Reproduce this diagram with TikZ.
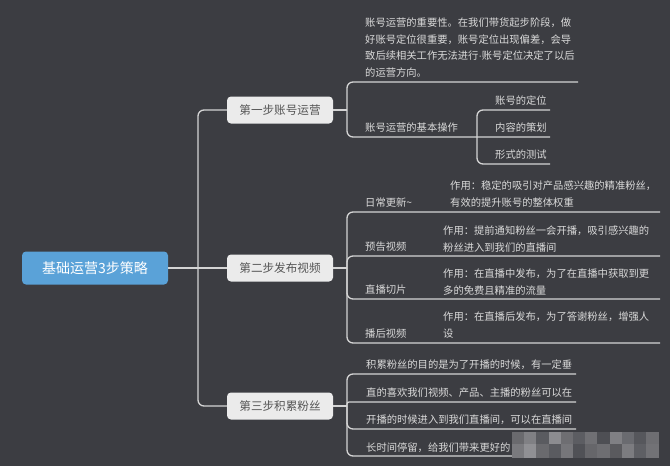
\documentclass[tikz,border=0pt]{standalone}
\usepackage{fontspec}
\newfontfamily\cjk{Noto Sans CJK SC}
\newfontfamily\latinf{Liberation Sans}
\definecolor{bg}{HTML}{3C3D42}
\definecolor{rootblue}{HTML}{5AA2D8}
\definecolor{topicfill}{HTML}{EBEBEB}
\definecolor{topictext}{HTML}{555555}
\definecolor{leaftext}{HTML}{DADADA}
\definecolor{linec}{HTML}{D4D4D4}
\begin{document}
\begin{tikzpicture}[x=1pt,y=-1pt,
  rootbox/.style={fill=rootblue, text=white, rounded corners=4pt, minimum width=146pt, minimum height=33pt, inner sep=0pt, font=\cjk\fontsize{14}{16}\selectfont},
  topicbox/.style={fill=topicfill, text=topictext, rounded corners=4pt, minimum width=106pt, minimum height=27pt, inner sep=0pt, font=\cjk\fontsize{11.6}{14}\selectfont},
  leaf/.style={anchor=base west, inner sep=0pt, text=leaftext, align=left, font=\cjk\fontsize{10.3}{16.4}\selectfont},
  leafdesc/.style={leaf, font=\cjk\fontsize{10.3}{17}\selectfont},
  conn/.style={draw=linec, line width=1.3pt, rounded corners=6pt},
  connsmall/.style={draw=linec, line width=1.3pt, rounded corners=2pt}]
\fill[bg] (0,0) rectangle (670,466);
\useasboundingbox (0,0) rectangle (670,466);

% main nodes
\node[rootbox] (root) at (95,268) {基础运营3步策略};
\node[topicbox] (l1) at (280,110) {第一步账号运营};
\node[topicbox] (l2) at (280,268) {第二步发布视频};
\node[topicbox] (l3) at (280,406) {第三步积累粉丝};

% trunk
\coordinate (tt) at (198,110);
\coordinate (tb) at (198,406);
\draw[conn] (root.east) -- (l2.west);
\draw[conn] (l1.west) -- (tt) -- (tb) -- (l3.west);

% ---------- branch 1
\coordinate (b1) at (347,110);
\coordinate (u1a) at (578,82);
\coordinate (j11) at (477,137);
\coordinate (s1) at (550,110);
\coordinate (s2) at (550,137);
\coordinate (s3) at (550,164);
\draw[conn] (l1.east) -- (b1);
\draw[conn] (b1) -- (b1 |- u1a) -- (u1a);
\draw[conn] (b1) -- (b1 |- j11) -- (j11) -- (s2);
\draw[conn] (j11) -- (j11 |- s1) -- (s1);
\draw[conn] (j11) -- (j11 |- s3) -- (s3);

% multi-line nodes: base anchor = baseline of the last line
\node[leaf] (t1a) at (365,76) {账号运营的重要性。在我们带货起步阶段，做\\好账号定位很重要，账号定位出现偏差，会导\\致后续相关工作无法进行{\latinf ·}账号定位决定了以后\\的运营方向。};
\node[leaf] (t1b) at (365,131) {账号运营的基本操作};
\node[leaf] (t11) at (495,104) {账号的定位};
\node[leaf] (t12) at (495,131) {内容的策划};
\node[leaf] (t13) at (495,158) {形式的测试};

% ---------- branch 2
\coordinate (b2) at (347,268);
\coordinate (e21) at (660,212);
\coordinate (e22) at (660,256);
\coordinate (e23) at (660,299);
\coordinate (e24) at (660,343);
\draw[conn] (l2.east) -- (b2);
\draw[conn] (b2) -- (b2 |- e21) -- (e21);
\draw[conn] (b2) -- (b2 |- e22) -- (e22);
\draw[conn] (b2) -- (b2 |- e23) -- (e23);
\draw[conn] (b2) -- (b2 |- e24) -- (e24);

\node[leaf] (t21) at (365,206) {日常更新\textasciitilde};
\node[leafdesc] (d21) at (450,206) {作用：稳定的吸引对产品感兴趣的精准粉丝，\\有效的提升账号的整体权重};
\node[leaf] (t22) at (365,250) {预告视频};
\node[leafdesc] (d22) at (443,251) {作用：提前通知粉丝一会开播，吸引感兴趣的\\粉丝进入到我们的直播间};
\node[leaf] (t23) at (365,293) {直播切片};
\node[leafdesc] (d23) at (443,294) {作用：在直播中发布，为了在直播中获取到更\\多的免费且精准的流量};
\node[leaf] (t24) at (365,337) {播后视频};
\node[leafdesc] (d24) at (443,337) {作用：在直播后发布，为了答谢粉丝，增强人\\设};

% ---------- branch 3
\coordinate (b3) at (347,406);
\coordinate (e31) at (576,374);
\coordinate (e32) at (576,402);
\coordinate (e33) at (576,429);
\coordinate (e34) at (576,456);
\draw[conn] (l3.east) -- (b3);
\draw[conn] (b3) -- (b3 |- e31) -- (e31);
\draw[connsmall] (b3) -- (b3 |- e32) -- (e32);
\draw[conn] (b3) -- (b3 |- e33) -- (e33);
\draw[conn] (b3) -- (b3 |- e34) -- (e34);

\node[leaf] (t31) at (366,368) {积累粉丝的目的是为了开播的时候，有一定垂};
\node[leaf] (t32) at (366,396) {直的喜欢我们视频、产品、主播的粉丝可以在};
\node[leaf] (t33) at (366,423) {开播的时候进入到我们直播间，可以在直播间};
\node[leaf] (t34) at (366,451) {长时间停留，给我们带来更好的};

% mosaic (blurred watermark)
\foreach \c [count=\i from 0] in {6A6A6E,808084,5A5B60,8C8C90,6E6E72,5C5D62,707074,4E4F54,808084,6A6B70,56575C,6E6E72}{
  \definecolor{mc}{HTML}{\c}
  \fill[mc] (512+\i*12.2,432) rectangle (512+\i*12.2+12.3,444.3);
}
\foreach \c [count=\i from 0] in {7A7A7E,909094,6A6A6E,5A5B60,76767A,505156,66666A,6E6E72,5A5A5E,7C7C80,5E5F64,727276}{
  \definecolor{mc}{HTML}{\c}
  \fill[mc] (512+\i*12.2,444) rectangle (512+\i*12.2+12.3,457.5);
}
\end{tikzpicture}
\end{document}
